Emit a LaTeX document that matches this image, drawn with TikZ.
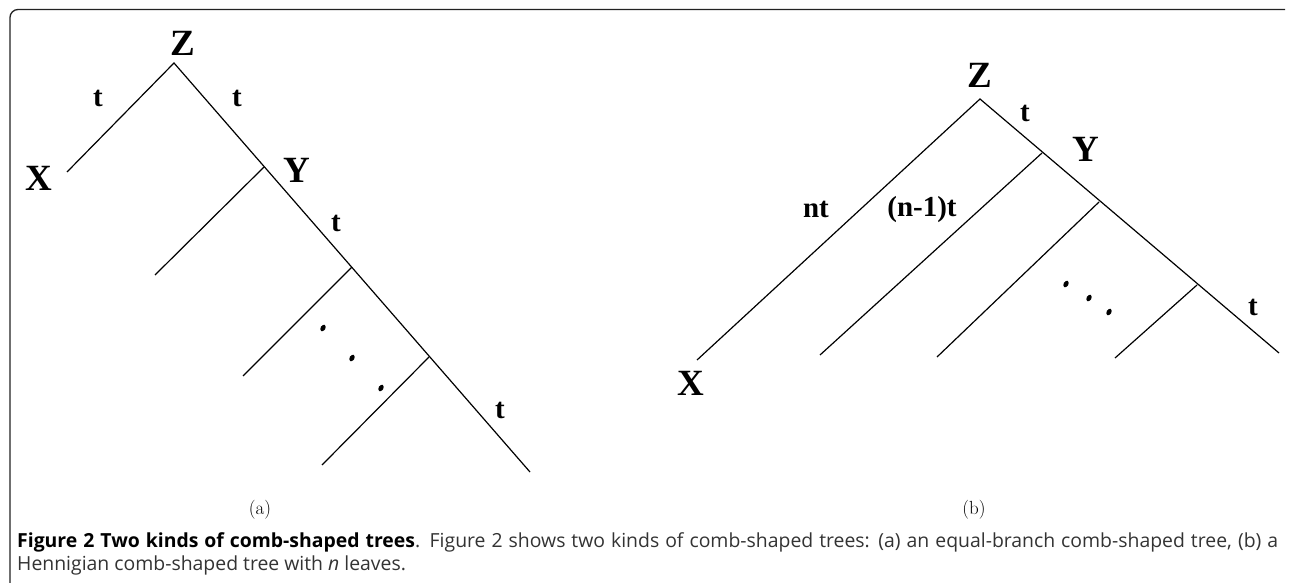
\documentclass[tikz,border=0pt]{standalone}
\usepackage{fontspec}
\newfontfamily\tnr{Liberation Serif}
\newfontfamily\capfont{Open Sans}
\definecolor{capgray}{HTML}{333333}
\definecolor{framegray}{HTML}{222222}
\begin{document}
\begin{tikzpicture}[x=1pt,y=-1pt,
  branch/.style={line width=1.2pt, black},
  lab/.style={font=\tnr\bfseries\fontsize{37}{37}\selectfont, inner sep=0},
  tlab/.style={font=\tnr\bfseries\fontsize{29}{29}\selectfont, inner sep=0},
  sublab/.style={font=\fontsize{19}{19}\selectfont, inner sep=0},
  caption/.style={font=\capfont\fontsize{19.4}{19.4}\selectfont, text=capgray, inner sep=0, anchor=base west},
  dotmark/.style={fill=black}]
\useasboundingbox (0,0) rectangle (1290,583);
% frame
\draw[framegray, line width=1.3pt, rounded corners=8pt] (10,590) -- (10,9.5) -- (1285,9.5);

% ---------- tree (a) ----------
\coordinate (R1) at (174,63);
\coordinate (X1) at (67,172);
\coordinate (Y1) at (264,167);
\coordinate (L1a) at (155,275);
\coordinate (J1b) at (352,267);
\coordinate (L1b) at (243,376);
\coordinate (J1c) at (429,357);
\coordinate (L1c) at (322,465);
\coordinate (E1) at (530,472);
\draw[branch] (X1) -- (R1) -- (E1);
\draw[branch] (Y1) -- (L1a);
\draw[branch] (J1b) -- (L1b);
\draw[branch] (J1c) -- (L1c);
\node[lab] (z1) at (183,43) {Z};
\node[lab] (x1) at (39,178) {X};
\node[lab] (y1) at (297,170) {Y};
\node[tlab] (t1a) at (98,98) {t};
\node[tlab] (t1b) at (237,98) {t};
\node[tlab] (t1c) at (336,223) {t};
\node[tlab] (t1d) at (500,410) {t};
\fill[dotmark, rotate around={-30:(323,328)}] (323,328) ellipse (2.4 and 3.5);
\fill[dotmark, rotate around={-30:(352,358)}] (352,358) ellipse (2.4 and 3.5);
\fill[dotmark, rotate around={-30:(381,388)}] (381,388) ellipse (2.4 and 3.5);
\node[sublab] (cap-a) at (260,510) {(a)};

% ---------- tree (b) ----------
\coordinate (R2) at (980,99);
\coordinate (X2) at (697,360);
\coordinate (Y2) at (1042,153);
\coordinate (L2a) at (820,355);
\coordinate (J2b) at (1099,202);
\coordinate (L2b) at (937,357);
\coordinate (J2c) at (1197,285);
\coordinate (L2c) at (1115,358);
\coordinate (E2) at (1279,353);
\draw[branch] (X2) -- (R2) -- (E2);
\draw[branch] (Y2) -- (L2a);
\draw[branch] (J2b) -- (L2b);
\draw[branch] (J2c) -- (L2c);
\node[lab] (z2) at (980,75) {Z};
\node[lab] (x2) at (691,383) {X};
\node[lab] (y2) at (1086,149) {Y};
\node[tlab] (t2a) at (1025,113) {t};
\node[tlab] (t2b) at (1253,307) {t};
\node[tlab] (nt) at (816,209) {nt};
\node[tlab] (n1t) at (922,210) {(n-1)t};
\fill[dotmark, rotate around={-30:(1066,284)}] (1066,284) ellipse (2.4 and 3.5);
\fill[dotmark, rotate around={-30:(1089,298)}] (1089,298) ellipse (2.4 and 3.5);
\fill[dotmark, rotate around={-30:(1109,312)}] (1109,312) ellipse (2.4 and 3.5);
\node[sublab] (cap-b) at (974,510) {(b)};

% ---------- caption ----------
\node[caption] (cap1) at (17,547) {\makebox[1261pt][s]{{\color{black}\bfseries Figure 2 Two kinds of comb-shaped trees}. Figure 2 shows two kinds of comb-shaped trees: (a) an equal-branch comb-shaped tree, (b) a}};
\node[caption] (cap2) at (17,570) {Hennigian comb-shaped tree with \textit{n} leaves.};
\end{tikzpicture}
\end{document}
